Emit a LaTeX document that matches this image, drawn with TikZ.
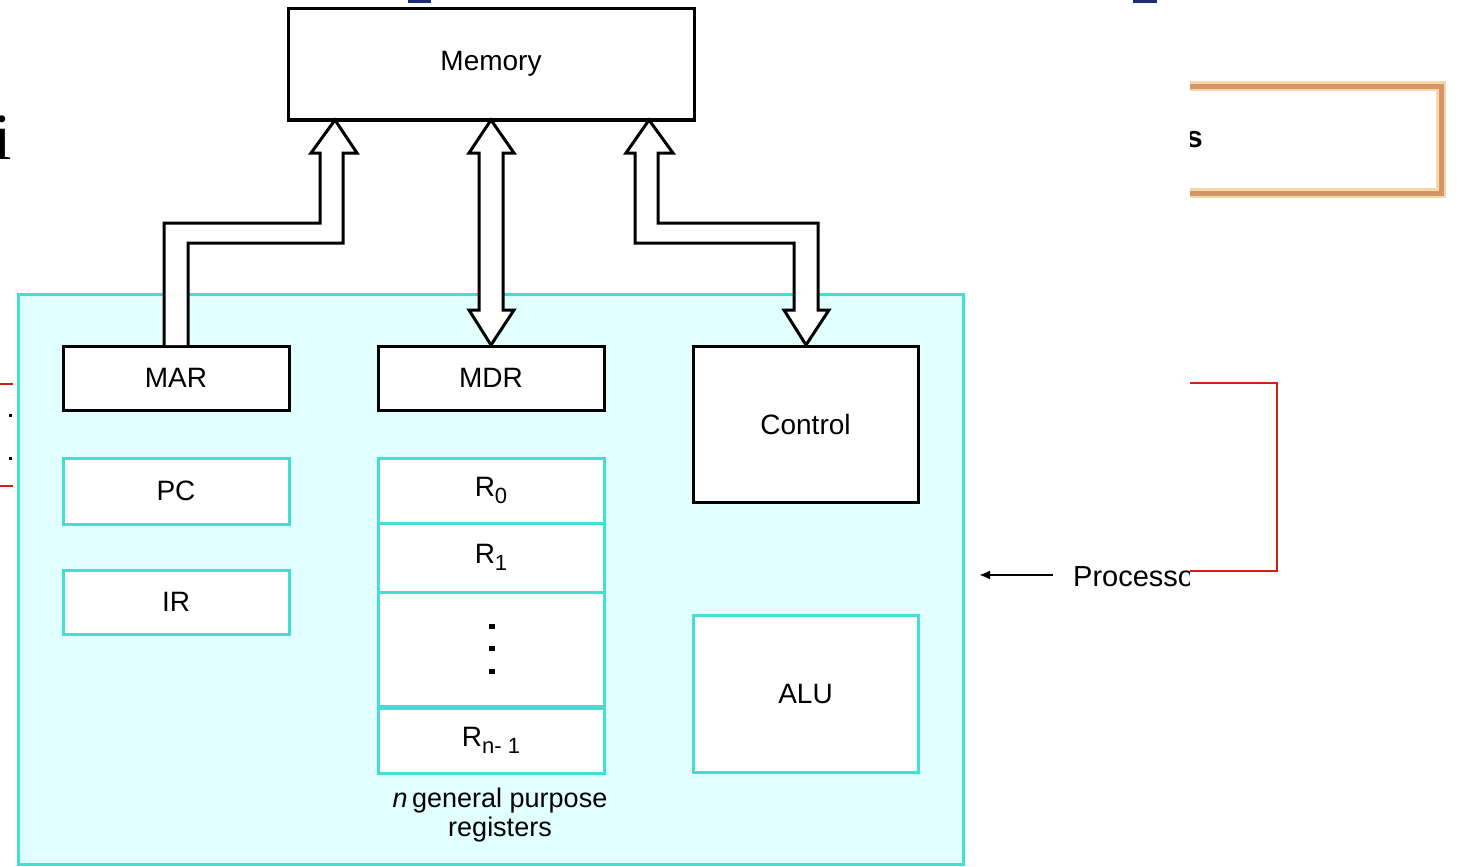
\documentclass[tikz,border=0pt]{standalone}
\usepackage{fontspec}
\setmainfont{Liberation Sans}
\newfontfamily\seriffont{Liberation Serif}
\usetikzlibrary{arrows.meta}
\definecolor{cyanline}{RGB}{64,224,212}
\definecolor{cyanfill}{RGB}{226,255,255}
\definecolor{redline}{RGB}{208,32,16}
\definecolor{orangeline}{RGB}{212,150,100}
\definecolor{orangeglow}{RGB}{250,215,170}
\definecolor{navy}{RGB}{30,45,120}
\newcommand{\lbl}{\fontsize{28}{31}\selectfont}
\newcommand{\sbs}[1]{\raisebox{-0.45ex}{\fontsize{22}{23}\selectfont #1}}
\tikzset{
  blackbox/.style={draw=black, line width=3pt, fill=white, inner sep=0pt, font=\lbl},
  cyanbox/.style={draw=cyanline, line width=3pt, fill=white, inner sep=0pt, font=\lbl},
  hollow/.style={draw=black, line width=3pt, fill=white, line join=miter},
  plain/.style={inner sep=0pt, font=\lbl},
}
\begin{document}
\begin{tikzpicture}[x=1pt,y=-1pt]
\useasboundingbox (0,0) rectangle (1459,867);
\fill[white] (0,0) rectangle (1459,867);

% top fragments
\fill[navy] (408,0) rectangle (431,3);
\fill[navy] (1133,0) rectangle (1157,3);
\node[anchor=base west, inner sep=0pt, font=\seriffont\fontsize{66}{66}\selectfont] (ifrag) at (-7,159) {i};

% left fragments
\draw[redline, line width=2pt] (0,384) -- (13,384);
\draw[redline, line width=2pt] (0,486) -- (13,486);
\fill[black] (9,414) rectangle (12,417);
\fill[black] (9,457) rectangle (12,460);

% processor area
\node[draw=cyanline, line width=3pt, fill=cyanfill, minimum width=945pt, minimum height=570pt, inner sep=0pt] (proc) at (490.5,579) {};

% memory
\node[blackbox, minimum width=406pt, minimum height=110pt] (mem) at (491,64) {Memory};

% processor components
\node[blackbox, minimum width=226pt, minimum height=64pt] (mar) at (176,378) {MAR};
\node[blackbox, minimum width=226pt, minimum height=64pt] (mdr) at (491,378) {MDR};
\node[blackbox, minimum width=225pt, minimum height=156pt] (ctrl) at (805.5,424) {Control};
\node[cyanbox, minimum width=226pt, minimum height=66pt] (pc) at (176,491) {PC};
\node[cyanbox, minimum width=226pt, minimum height=64pt] (ir) at (176,602) {IR};
\node[cyanbox, minimum width=225pt, minimum height=157pt] (alu) at (805.5,693.5) {ALU};

% registers
\node[cyanbox, minimum width=226pt, minimum height=65pt] (r0) at (491,490.5) {R\sbs{0}};
\node[cyanbox, minimum width=226pt, minimum height=69pt] (r1) at (491,557.5) {R\sbs{1}};
\node[cyanbox, minimum width=226pt, minimum height=114pt] (rdots) at (491,649) {};
\node[cyanbox, minimum width=226pt, minimum height=65pt] (rn) at (491,740.5) {R\sbs{n- 1}};
\draw[cyanline, line width=3pt] (rdots.south west) -- (rdots.south east);
\foreach \yy in {626,648,671} {\fill[black] (489,\yy-2.5) rectangle (495,\yy+2.5);}
\node[plain, align=center, font=\fontsize{27}{29}\selectfont] (nlabel) at (500,815) {\textit{n}\,general purpose\\registers};

% hollow arrows
\draw[hollow] (164,345) -- (164,223) -- (320,223) -- (320,153) -- (311,153) -- (335,120)
  -- (357,153) -- (343,153) -- (343,243) -- (188,243) -- (188,345);
\draw[hollow] (491,120) -- (514,153) -- (503,153) -- (503,310) -- (514,310) -- (491,345)
  -- (469,310) -- (479,310) -- (479,153) -- (469,153) -- cycle;
\draw[hollow] (649,120) -- (673,153) -- (658,153) -- (658,223) -- (818,223) -- (818,310)
  -- (829,310) -- (806,345) -- (784,310) -- (794,310) -- (794,243) -- (635,243) -- (635,153)
  -- (626,153) -- cycle;
\draw[black, line width=3pt] (mem.south west) -- (mem.south east);

% processor label
\coordinate (ptip) at (979,575);
\node[plain, anchor=west, font=\fontsize{29}{31}\selectfont] (plabel) at (1073,577) {Processor};
\draw[black, line width=2.5pt, -{Latex[length=11pt,width=9pt]}] (1053,575) -- (ptip);

% right overlay
\fill[white] (1190,0) rectangle (1459,867);
\begin{scope}
\clip (1190,0) rectangle (1459,867);
\draw[orangeglow, line width=10pt] (1150,86) rectangle (1441,193);
\draw[orangeline, line width=5pt] (1150,86) rectangle (1441,193);
\node[anchor=base east, inner sep=0pt, font=\bfseries\fontsize{30}{30}\selectfont] (sfrag) at (1203,147) {s};
\end{scope}
\coordinate (rb1) at (1190,383);
\coordinate (rb2) at (1190,571);
\draw[redline, line width=2pt] (rb1) -- (1277,383) -- (1277,571) -- (rb2);
\end{tikzpicture}
\end{document}
